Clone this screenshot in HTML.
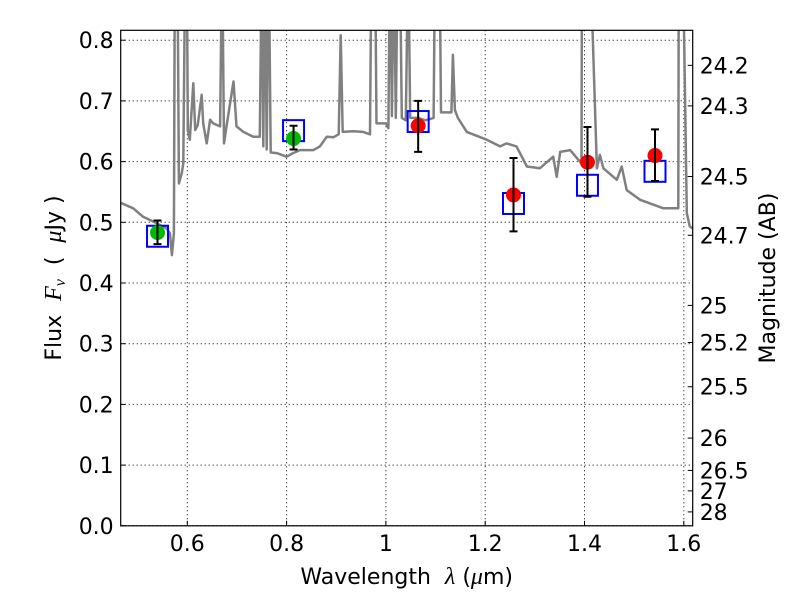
<!DOCTYPE html>
<html><head><meta charset="utf-8"><style>
html,body{margin:0;padding:0;background:#fff;}
svg text{font-family:"DejaVu Sans","Liberation Sans",sans-serif;fill:#000;white-space:pre;}
</style></head><body>
<svg id="chart" width="800" height="600" viewBox="0 0 800 600" xmlns="http://www.w3.org/2000/svg"></svg>
<script>
const xTicks=[0.6,0.8,1.0,1.2,1.4,1.6];
const xTickLabels=["0.6","0.8","1","1.2","1.4","1.6"];
const yTicks=[0,0.1,0.2,0.3,0.4,0.5,0.6,0.7,0.8];
const yTickLabels=["0.0","0.1","0.2","0.3","0.4","0.5","0.6","0.7","0.8"];
const magTicks=[24.2,24.3,24.5,24.7,25,25.2,25.5,26,26.5,27,28];
const magLabels=["24.2","24.3","24.5","24.7","25","25.2","25.5","26","26.5","27","28"];
const specWave=[0.466,0.491,0.511,0.532,0.558,0.565,0.569,0.573,0.575,0.580,0.583,0.589,0.592,0.596,0.599,0.601,0.605,0.612,0.616,0.621,0.629,0.632,0.639,0.646,0.652,0.666,0.670,0.674,0.679,0.693,0.699,0.713,0.733,0.746,0.750,0.753,0.756,0.760,0.764,0.768,0.780,0.800,0.813,0.827,0.854,0.867,0.881,0.894,0.905,0.909,0.913,0.934,0.954,0.968,0.971,0.978,0.981,1.000,1.005,1.008,1.012,1.016,1.020,1.024,1.028,1.032,1.040,1.045,1.049,1.065,1.080,1.096,1.099,1.108,1.111,1.128,1.132,1.135,1.139,1.145,1.163,1.203,1.230,1.243,1.263,1.284,1.310,1.337,1.344,1.351,1.371,1.394,1.395,1.411,1.425,1.431,1.438,1.465,1.475,1.485,1.512,1.559,1.589,1.590,1.598,1.606,1.612,1.618];
const specFlux=[0.532,0.523,0.509,0.501,0.490,0.482,0.446,0.482,0.95,0.95,0.564,0.581,0.597,0.95,0.95,0.652,0.636,0.729,0.652,0.660,0.710,0.663,0.630,0.669,0.663,0.658,0.95,0.630,0.658,0.732,0.658,0.649,0.641,0.641,0.95,0.625,0.95,0.620,0.95,0.615,0.614,0.608,0.614,0.619,0.619,0.625,0.641,0.640,0.645,0.808,0.649,0.650,0.649,0.645,0.95,0.95,0.663,0.663,0.655,0.95,0.675,0.95,0.672,0.95,0.95,0.672,0.668,0.95,0.672,0.672,0.668,0.672,0.95,0.95,0.681,0.681,0.681,0.776,0.685,0.672,0.649,0.636,0.625,0.630,0.625,0.592,0.589,0.608,0.575,0.616,0.619,0.597,0.95,0.95,0.589,0.611,0.589,0.570,0.592,0.553,0.537,0.523,0.523,0.95,0.95,0.515,0.493,0.49];
const modelWave=[0.54,0.814,1.065,1.257,1.406,1.542];
const modelFlux=[0.477,0.651,0.666,0.531,0.561,0.584];
const obsWave=[0.54,0.814,1.065,1.257,1.406,1.542];
const obsFlux=[0.483,0.638,0.659,0.545,0.599,0.610];
const obsErrLo=[0.019,0.018,0.043,0.060,0.057,0.042];
const obsErrHi=[0.020,0.021,0.041,0.061,0.058,0.043];
const obsColor=["#00bb00","#00bb00","#ff0000","#ff0000","#ff0000","#ff0000"];

const L=120.7,R=692.7,T=30.3,B=525.8;
const xMin=0.6-(187.3-L)/496.5, xMax=0.6+(R-187.3)/496.5;
const yMin=0, yMax=(B-T)/607;
const X=v=>L+(v-xMin)/(xMax-xMin)*(R-L);
const Y=v=>B-(v-yMin)/(yMax-yMin)*(B-T);
const NS="http://www.w3.org/2000/svg";
const svg=document.getElementById('chart');
function mk(tag,attrs,parent){const e=document.createElementNS(NS,tag);for(const k in attrs)e.setAttribute(k,attrs[k]);(parent||svg).appendChild(e);return e;}

const defs=mk('defs',{});
const cp=mk('clipPath',{id:'clip'},defs);
mk('rect',{x:L,y:T,width:R-L,height:B-T},cp);
const FS=22;

xTicks.forEach((v,i)=>{
  const g=mk('line',{x1:X(v),x2:X(v),y1:T,y2:B,stroke:'#000','stroke-width':1,'stroke-dasharray':'1,3'});
  
  
  const t=mk('line',{x1:X(v),x2:X(v),y1:B,y2:B-5,stroke:'#000','stroke-width':1});
  
  
  const lb=mk('text',{x:X(v),y:551,'font-size':FS,'text-anchor':'middle'});
  lb.textContent=xTickLabels[i];
  
  
});
yTicks.forEach((v,i)=>{
  const g=mk('line',{x1:L,x2:R,y1:Y(v),y2:Y(v),stroke:'#000','stroke-width':1,'stroke-dasharray':'1,3'});
  
  
  const t=mk('line',{x1:L,x2:L+5,y1:Y(v),y2:Y(v),stroke:'#000','stroke-width':1});
  
  
  const lb=mk('text',{x:L-7,y:Y(v)+8,'font-size':FS,'text-anchor':'end'});
  lb.textContent=yTickLabels[i];
  
  
});
magTicks.forEach((m,i)=>{
  const f=Math.pow(10,(23.9-m)/2.5);
  const y=Y(f);
  const t=mk('line',{x1:R,x2:R-5,y1:y,y2:y,stroke:'#000','stroke-width':1});
  
  
  const lb=mk('text',{x:R+7,y:y+8,'font-size':FS});
  lb.textContent=magLabels[i];
  
  
});

let d='';
specWave.forEach((w,i)=>{d+=(i?'L':'M')+X(w).toFixed(1)+','+Y(specFlux[i]).toFixed(1);});
const sp=mk('path',{d:d,fill:'none',stroke:'#808080','stroke-width':2.5,'stroke-linejoin':'round','clip-path':'url(#clip)'});



modelWave.forEach((w,i)=>{
  const r=mk('rect',{x:X(w)-10.5,y:Y(modelFlux[i])-10.5,width:21,height:21,fill:'none',stroke:'#0000ff','stroke-width':2});
  
  
});
obsWave.forEach((w,i)=>{
  const x=X(w);
  const c=mk('circle',{cx:x,cy:Y(obsFlux[i]),r:7.5,fill:obsColor[i]});
  
  
  const y1=Y(obsFlux[i]+obsErrHi[i]),y2=Y(obsFlux[i]-obsErrLo[i]);
  const e=mk('path',{d:`M${x},${y1}L${x},${y2}M${x-4},${y1}L${x+4},${y1}M${x-4},${y2}L${x+4},${y2}`,stroke:'#000','stroke-width':2,fill:'none'});
  
  
});

const fr=mk('rect',{x:L,y:T,width:R-L,height:B-T,fill:'none',stroke:'#000','stroke-width':1.2});



const xt=mk('text',{x:(L+R)/2,y:584,'font-size':FS,'text-anchor':'middle'});
xt.innerHTML='Wavelength  <tspan font-family="Liberation Serif" font-style="italic" font-size="24">λ</tspan> (<tspan font-family="Liberation Serif" font-style="italic" font-size="24">μ</tspan>m)';


const yt=mk('text',{x:0,y:0,'font-size':FS,'text-anchor':'middle',transform:`translate(61,${(T+B)/2}) rotate(-90)`});
yt.innerHTML='Flux  <tspan font-family="Liberation Serif" font-style="italic" font-size="24">F</tspan><tspan font-family="Liberation Serif" font-style="italic" font-size="16" dy="4">ν</tspan><tspan dy="-4">  (  </tspan><tspan font-family="Liberation Serif" font-style="italic" font-size="24">μ</tspan>Jy )';


const rt=mk('text',{x:0,y:0,'font-size':FS,'text-anchor':'middle',transform:`translate(775,${(T+B)/2}) rotate(-90)`});
rt.textContent='Magnitude (AB)';


</script>
</body></html>
